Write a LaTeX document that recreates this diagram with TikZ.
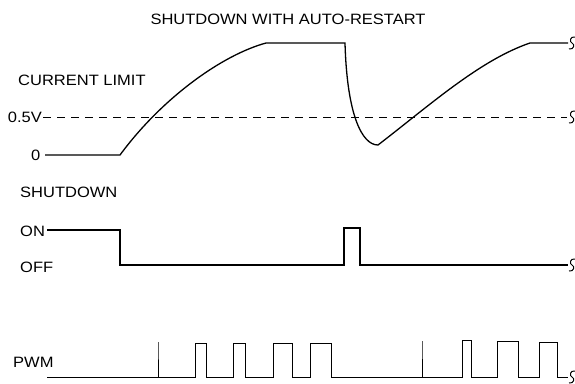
\documentclass[tikz,border=0pt]{standalone}
\usepackage{fontspec}
\setmainfont{Liberation Sans}[FakeStretch=1.1]
\usepackage{tikz}
\usetikzlibrary{positioning}

\tikzset{
  brk/.pic={\draw[line width=1pt] (5,-6) .. controls (0,-7) and (-1,-1) .. (2,0) .. controls (5,1) and (4,7) .. (-1,6);}
}

\begin{document}
\begin{tikzpicture}[x=1pt, y=-1pt, every node/.style={font=\fontsize{15}{18}\selectfont, inner sep=0pt},
  wave/.style={line width=1.3pt, line join=miter}, pwm/.style={line width=1pt}]
\useasboundingbox (0,0) rectangle (575,383);

\node (title) at (288,19.5) {SHUTDOWN WITH AUTO-RESTART};
\node[anchor=west] (ilim) at (18,80) {CURRENT LIMIT};
\node[anchor=east] (half) at (42,117.5) {0.5V};
\node[anchor=east] (zero) at (40.5,155) {0};
\node[anchor=west] (sd) at (20,192.5) {SHUTDOWN};
\node[anchor=west] (on) at (20,231.5) {ON};
\node[anchor=west] (off) at (20,267.5) {OFF};
\node[anchor=west] (pwm) at (13,362.5) {PWM};

% current sense
\draw[dash pattern=on 8pt off 6pt, line width=0.9pt] (half.east) ++(1,-0.5) -- (567,117);
\pic at (570,117) {brk};
\draw[wave] (45,155) -- (120,155) .. controls (162,98) and (222,55) .. (266,43) -- (345,43)
  .. controls (347,115) and (362,145) .. (378,145)
  .. controls (430,105) and (480,60) .. (530,43) -- (568,43);
\pic at (570,43) {brk};

% shutdown
\draw[wave] (47,230) -- (120,230) -- (120,265) -- (344,265) -- (344,228) -- (360,228) -- (360,265) -- (568,265);
\pic at (570,265) {brk};

% pwm
\draw[pwm] (47,377) -- (158,377) -- (158,342) -- (158,377)
  foreach \a/\b/\h in {195/206/343,233/245/343,273/292/343,310/331/343} { -- (\a,377) -- (\a,\h) -- (\b,\h) -- (\b,377) }
  -- (422,377) -- (422,341) -- (422,377)
  foreach \a/\b/\h in {462/471/340,497/518/341,539/557/342} { -- (\a,377) -- (\a,\h) -- (\b,\h) -- (\b,377) }
  -- (568,377);
\pic at (570,377) {brk};
\end{tikzpicture}
\end{document}
